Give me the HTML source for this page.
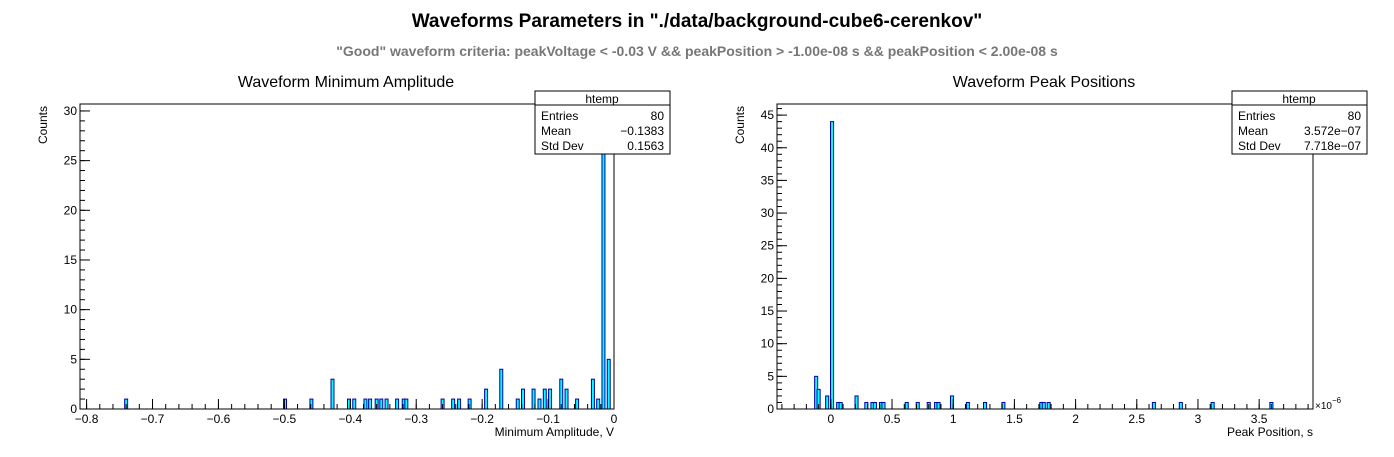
<!DOCTYPE html>
<html><head><meta charset="utf-8">
<style>
body{margin:0;background:#fff;width:1394px;height:452px;overflow:hidden;font-family:"Liberation Sans",sans-serif}
svg text{font-family:"Liberation Sans",sans-serif}
</style></head>
<body>
<svg id="c" width="1394" height="452" xmlns="http://www.w3.org/2000/svg">
<text x="697" y="27" text-anchor="middle" font-size="19" font-weight="bold">Waveforms Parameters in "./data/background-cube6-cerenkov"</text>
<text x="697" y="56" text-anchor="middle" font-size="14" font-weight="bold" fill="#777">"Good" waveform criteria: peakVoltage &lt; -0.03 V &amp;&amp; peakPosition &gt; -1.00e-08 s &amp;&amp; peakPosition &lt; 2.00e-08 s</text>
<text x="346" y="87" text-anchor="middle" font-size="16">Waveform Minimum Amplitude</text>
<text x="1044" y="87" text-anchor="middle" font-size="16">Waveform Peak Positions</text>
<g id="left"></g>
<g id="right"></g>
</svg>
<script>
// Left histogram data
const ampCenters=[-0.74,-0.499,-0.459,-0.427,-0.402,-0.394,-0.377,-0.370,-0.360,-0.353,-0.345,-0.329,-0.319,-0.315,-0.26,-0.244,-0.235,-0.219,-0.194,-0.171,-0.146,-0.138,-0.122,-0.113,-0.105,-0.097,-0.080,-0.072,-0.056,-0.032,-0.024,-0.016,-0.008];
const ampCounts=[1,1,1,3,1,1,1,1,1,1,1,1,1,1,1,1,1,1,2,4,1,2,2,1,2,2,3,2,1,3,1,31,5];
const ampXTicks=[-0.8,-0.7,-0.6,-0.5,-0.4,-0.3,-0.2,-0.1,0];
const ampYTicks=[0,5,10,15,20,25,30];
// Right histogram data (units of 1e-6 s)
const posCenters=[-0.12,-0.10,-0.03,0.01,0.06,0.08,0.21,0.29,0.34,0.36,0.41,0.43,0.62,0.71,0.80,0.86,0.88,0.99,1.12,1.26,1.41,1.72,1.74,1.78,2.64,2.86,3.12,3.60];
const posCounts=[5,3,2,44,1,1,2,1,1,1,1,1,1,1,1,1,1,2,1,1,1,1,1,1,1,1,1,1];
const posXTicks=[0,0.5,1,1.5,2,2.5,3,3.5];
const posYTicks=[0,5,10,15,20,25,30,35,40,45];

const NS="http://www.w3.org/2000/svg";
function mk(p,t,a){const e=document.createElementNS(NS,t);for(const k in a)e.setAttribute(k,a[k]);p.appendChild(e);return e;}

function drawHist(g,cfg){
  const {x0,x1,y0,y1,xmin,xmax,ymax,centers,counts,bw,xt,yt,minorX,minorY,xlabel,stats,statsX}=cfg;
  const sx=v=>x0+(v-xmin)/(xmax-xmin)*(x1-x0);
  const sy=v=>y1-v/ymax*(y1-y0);
  const clip=mk(g,'clipPath',{id:'cl'+x0});mk(clip,'rect',{x:x0,y:y0,width:x1-x0,height:y1-y0});
  const bars=mk(g,'g',{'clip-path':'url(#cl'+x0+')'});
  centers.forEach((c,i)=>{
    const r=mk(bars,'rect',{x:sx(c-bw/2),y:sy(counts[i]),width:Math.max(2,sx(c+bw/2)-sx(c-bw/2)),height:y1-sy(counts[i]),fill:'#00ffff',stroke:'#0000aa','stroke-width':1});
    
    
  });
  mk(g,'rect',{x:x0,y:y0,width:x1-x0,height:y1-y0,fill:'none',stroke:'#000','stroke-width':1});
  // x minor ticks
  for(let v=Math.ceil(xmin/minorX)*minorX;v<=xmax+1e-9;v+=minorX){const X=sx(v);mk(g,'line',{x1:X,x2:X,y1:y1,y2:y1-5,stroke:'#000'});}
  xt.forEach(v=>{const X=sx(v);mk(g,'line',{x1:X,x2:X,y1:y1,y2:y1-10,stroke:'#000'});
    const t=mk(g,'text',{x:X,y:y1+14,'text-anchor':'middle','font-size':12});t.textContent=(v<0?'\u2212'+(-v):String(v));
    });
  for(let v=0;v<=ymax;v+=minorY){const Y=sy(v);mk(g,'line',{x1:x0,x2:x0+5,y1:Y,y2:Y,stroke:'#000'});}
  yt.forEach(v=>{const Y=sy(v);mk(g,'line',{x1:x0,x2:x0+10,y1:Y,y2:Y,stroke:'#000'});
    const t=mk(g,'text',{x:x0-3,y:Y+4,'text-anchor':'end','font-size':12});t.textContent=v;
    });
  const xl=mk(g,'text',{x:x1,y:y1+27,'text-anchor':'end','font-size':12});xl.textContent=xlabel;
  
  const yl=mk(g,'text',{x:0,y:0,'text-anchor':'end','font-size':12,transform:`translate(${x0-33},${y0+2}) rotate(-90)`});yl.textContent='Counts';
  
  // stats box
  const sb=mk(g,'g',{});
  
  mk(sb,'rect',{x:statsX,y:91,width:135,height:63,fill:'#fff',stroke:'#000'});
  mk(sb,'line',{x1:statsX,x2:statsX+135,y1:105,y2:105,stroke:'#000'});
  const h=mk(sb,'text',{x:statsX+67,y:103,'text-anchor':'middle','font-size':12});h.textContent='htemp';
  stats.forEach((s,i)=>{const yy=120+i*15;
    const a=mk(sb,'text',{x:statsX+6,y:yy,'font-size':12});a.textContent=s[0];
    const b=mk(sb,'text',{x:statsX+129,y:yy,'text-anchor':'end','font-size':12});b.textContent=s[1];});
}
drawHist(document.getElementById('left'),{x0:80,x1:614,y0:104,y1:409,xmin:-0.81,xmax:0.0,ymax:30.7,
  centers:ampCenters,counts:ampCounts,bw:0.0045,xt:ampXTicks,yt:ampYTicks,minorX:0.02,minorY:1,
  xlabel:'Minimum Amplitude, V',stats:[['Entries','80'],['Mean','\u22120.1383'],['Std Dev','0.1563']],statsX:535});
drawHist(document.getElementById('right'),{x0:777,x1:1313,y0:104,y1:409,xmin:-0.44,xmax:3.94,ymax:46.7,
  centers:posCenters,counts:posCounts,bw:0.025,xt:posXTicks,yt:posYTicks,minorX:0.1,minorY:1,
  xlabel:'Peak Position, s',stats:[['Entries','80'],['Mean','3.572e\u221207'],['Std Dev','7.718e\u221207']],statsX:1232});
const ex=mk(document.getElementById('right'),'text',{x:1315,y:409,'font-size':10});ex.textContent='\u00d710';

const ex2=mk(document.getElementById('right'),'text',{x:1332,y:403,'font-size':8});ex2.textContent='\u22126';
</script>
</body></html>
